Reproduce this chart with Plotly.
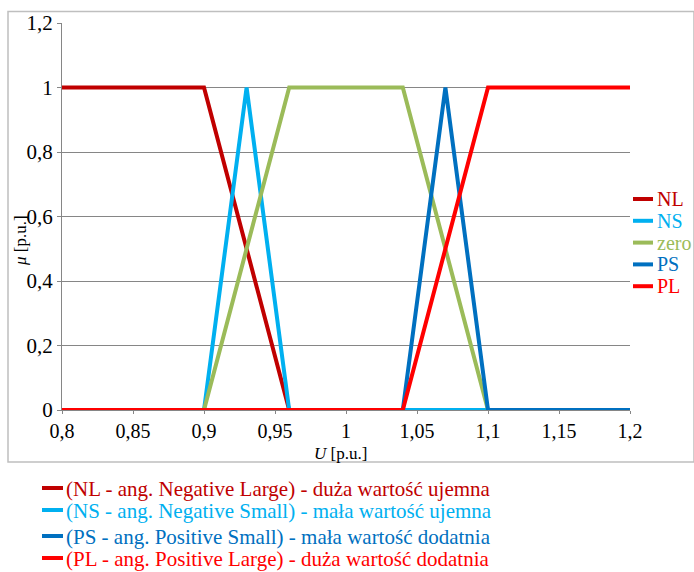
import plotly.graph_objects as go

# ---- data ----
names = ["NL", "NS", "zero", "PS", "PL"]
colors = ["#C00000", "#00B0F0", "#9BBB59", "#0070C0", "#FF0000"]
nl_x = [0.8, 0.9, 0.96, 1.2]
nl_y = [1, 1, 0, 0]
ns_x = [0.8, 0.9, 0.93, 0.96, 1.2]
ns_y = [0, 0, 1, 0, 0]
zero_x = [0.8, 0.9, 0.96, 1.04, 1.1, 1.2]
zero_y = [0, 0, 1, 1, 0, 0]
ps_x = [0.8, 1.04, 1.07, 1.1, 1.2]
ps_y = [0, 0, 1, 0, 0]
pl_x = [0.8, 1.04, 1.1, 1.2]
pl_y = [0, 0, 1, 1]

x_tickvals = [0.8, 0.85, 0.9, 0.95, 1.0, 1.05, 1.1, 1.15, 1.2]
x_ticktext = ["0,8", "0,85", "0,9", "0,95", "1", "1,05", "1,1", "1,15", "1,2"]
y_tickvals = [0, 0.2, 0.4, 0.6, 0.8, 1.0, 1.2]
y_ticktext = ["0", "0,2", "0,4", "0,6", "0,8", "1", "1,2"]

note_texts = [
    "(NL - ang. Negative Large) - duża wartość ujemna",
    "(NS - ang. Negative Small) - mała wartość ujemna",
    "(PS - ang. Positive Small) - mała wartość dodatnia",
    "(PL - ang. Positive Large) - duża wartość dodatnia",
]
note_colors = ["#C00000", "#00B0F0", "#0070C0", "#FF0000"]

FONT = "Liberation Serif"
W, H = 694, 572
ML, MR, MT, MB = 62, 64, 23, 162
PW = W - ML - MR
PH = H - MT - MB


def px(x):
    return (x - ML) / PW


def py(y):
    return (H - MB - y) / PH


fig = go.Figure()
series = [(nl_x, nl_y), (ns_x, ns_y), (zero_x, zero_y), (ps_x, ps_y), (pl_x, pl_y)]
for (xs, ys), n, c in zip(series, names, colors):
    fig.add_trace(go.Scatter(x=xs, y=ys, mode="lines", name=n,
                             line=dict(color=c, width=4), showlegend=False))

shapes = []
annotations = []
# outer chart border
shapes.append(dict(type="rect", xref="paper", yref="paper",
                   x0=px(8), x1=px(694), y0=py(462), y1=py(11.5),
                   line=dict(color="#BFBFBF", width=1.5), layer="below"))

# right legend
for i, (n, c) in enumerate(zip(names, colors)):
    yc = 199 + i * 21.8
    shapes.append(dict(type="line", xref="paper", yref="paper",
                       x0=px(633), x1=px(653), y0=py(yc), y1=py(yc),
                       line=dict(color=c, width=4)))
    annotations.append(dict(text=n, xref="paper", yref="paper",
                            x=px(655), y=py(yc), xanchor="left", yanchor="middle",
                            showarrow=False, font=dict(family=FONT, size=20, color=c)))

# bottom notes
note_y = [488, 510, 536, 558]
for t, c, yc in zip(note_texts, note_colors, note_y):
    shapes.append(dict(type="line", xref="paper", yref="paper",
                       x0=px(42), x1=px(63), y0=py(yc), y1=py(yc),
                       line=dict(color=c, width=4)))
    annotations.append(dict(text=t, xref="paper", yref="paper",
                            x=px(64), y=py(yc + 1), xanchor="left", yanchor="middle",
                            showarrow=False, font=dict(family=FONT, size=21, color=c)))

# axis titles
annotations.append(dict(text="<i>μ</i> [p.u.]", xref="paper", yref="paper",
                        x=px(20), y=py(241), xanchor="center", yanchor="middle",
                        textangle=-90, showarrow=False,
                        font=dict(family=FONT, size=17, color="black")))
annotations.append(dict(text="<i>U</i> [p.u.]", xref="paper", yref="paper",
                        x=px(340), y=py(454), xanchor="center", yanchor="middle",
                        showarrow=False, font=dict(family=FONT, size=17, color="black")))

fig.update_layout(
    width=W, height=H,
    margin=dict(l=ML, r=MR, t=MT, b=MB),
    paper_bgcolor="white", plot_bgcolor="white",
    font=dict(family=FONT, size=19, color="black"),
    shapes=shapes, annotations=annotations,
    showlegend=False,
)
fig.update_xaxes(range=[0.8, 1.2], tickvals=x_tickvals, ticktext=x_ticktext,
                 showgrid=False, zeroline=False, showline=True,
                 linecolor="#868686", linewidth=1,
                 ticks="outside", ticklen=3, tickcolor="#868686",
                 tickfont=dict(family=FONT, size=20))
fig.update_yaxes(range=[0, 1.2], tickvals=y_tickvals, ticktext=y_ticktext,
                 showgrid=True, gridcolor="#868686", gridwidth=1,
                 zeroline=False, showline=True, linecolor="#868686", linewidth=1,
                 ticks="outside", ticklen=4, tickcolor="#868686",
                 tickfont=dict(family=FONT, size=21))

fig.write_html("out.html")
